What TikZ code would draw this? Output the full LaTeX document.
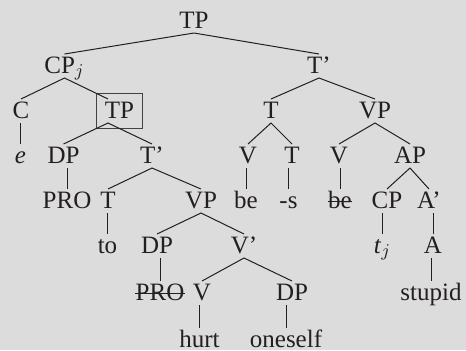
\documentclass[tikz,border=0pt]{standalone}
\usepackage{fontspec}
\setmainfont{Liberation Serif}
\usepackage{tikz}
\definecolor{bggray}{RGB}{220,220,220}
\definecolor{ink}{RGB}{35,31,32}

\begin{document}
\begin{tikzpicture}[x=0.5pt,y=-0.5pt,
  tn/.style={anchor=base,inner sep=0pt,text height=8pt,text depth=1pt,outer ysep=1.5pt,text=ink,font=\fontsize{12.5}{15}\selectfont},
  br/.style={draw=ink,line width=0.5pt}]
\fill[bggray] (0,0) rectangle (466,350);
\node[tn] (tp0) at (194,28) {TP};
\node[tn] (cp) at (64.5,73) {CP$_j$}; \node[tn] (tb1) at (319,73) {T'};
\node[tn] (c) at (21,118) {C}; \node[tn] (tp2) at (119.5,118) {TP};
\node[tn] (t2) at (271,118) {T}; \node[tn] (vp2) at (375,118) {VP};
\node[tn] (e) at (20.5,163) {\textit{e}}; \node[tn] (dp3) at (63.5,163) {DP}; \node[tn] (tb3) at (152,163) {T'};
\node[tn] (v3) at (248,163) {V}; \node[tn] (t3) at (292,163) {T}; \node[tn] (v3b) at (339,163) {V}; \node[tn] (ap) at (410,163) {AP};
\node[tn] (pro) at (67,208) {PRO}; \node[tn] (t4) at (108,208) {T}; \node[tn] (vp4) at (201,208) {VP};
\node[tn] (be1) at (246,208) {be}; \node[tn] (s) at (288.5,208) {-s}; \node[tn] (be2) at (340,208) {be};
\node[tn] (cp4) at (387,208) {CP}; \node[tn] (ab) at (429,208) {A'};
\node[tn] (to) at (107.5,253) {to}; \node[tn] (dp5) at (157,253) {DP}; \node[tn] (vb) at (244,253) {V'};
\node[tn] (tj) at (382.5,253) {\textit{t}$_j$}; \node[tn] (a) at (433,253) {A};
\node[tn] (pro2) at (160,300) {PRO}; \node[tn] (v6) at (202,300) {V}; \node[tn] (dp6) at (292,300) {DP};
\node[tn] (stupid) at (431,300) {stupid};
\node[tn] (hurt) at (199.5,347) {hurt}; \node[tn] (oneself) at (286,347) {oneself};
\coordinate (tp2top) at ([xshift=-5.75pt]tp2.north); \coordinate (tp2bot) at ([xshift=-5.75pt]tp2.south);
\draw[br,draw=ink!85] ([shift={(-11.4pt,-5pt)}]tp2.base) rectangle ([shift={(11.4pt,12.5pt)}]tp2.base);
\draw[br] (cp.north) -- (tp0.south) -- (tb1.north);
\draw[br] (c.north) -- (cp.south) -- (tp2top);
\draw[br] (dp3.north) -- (tp2bot) -- (tb3.north);
\draw[br] (t2.north) -- (tb1.south) -- (vp2.north);
\draw[br] (v3.north) -- (t2.south) -- (t3.north);
\draw[br] (v3b.north) -- (vp2.south) -- (ap.north);
\draw[br] (t4.north) -- (tb3.south) -- (vp4.north);
\draw[br] (cp4.north) -- (ap.south) -- (ab.north);
\draw[br] (dp5.north) -- (vp4.south) -- (vb.north);
\draw[br] (v6.north) -- (vb.south) -- (dp6.north);
\foreach \up/\dn in {c/e,dp3/pro,t4/to,v3/be1,t3/s,v3b/be2,cp4/tj,ab/a,dp5/pro2,a/stupid,v6/hurt,dp6/oneself}
  \draw[br] (\dn.north |- \up.south) -- (\dn.north);
\foreach \st in {pro2,be2}
  \draw[br] ([yshift=3.5pt]\st.base west) -- ([yshift=3.5pt]\st.base east);
\end{tikzpicture}
\end{document}
